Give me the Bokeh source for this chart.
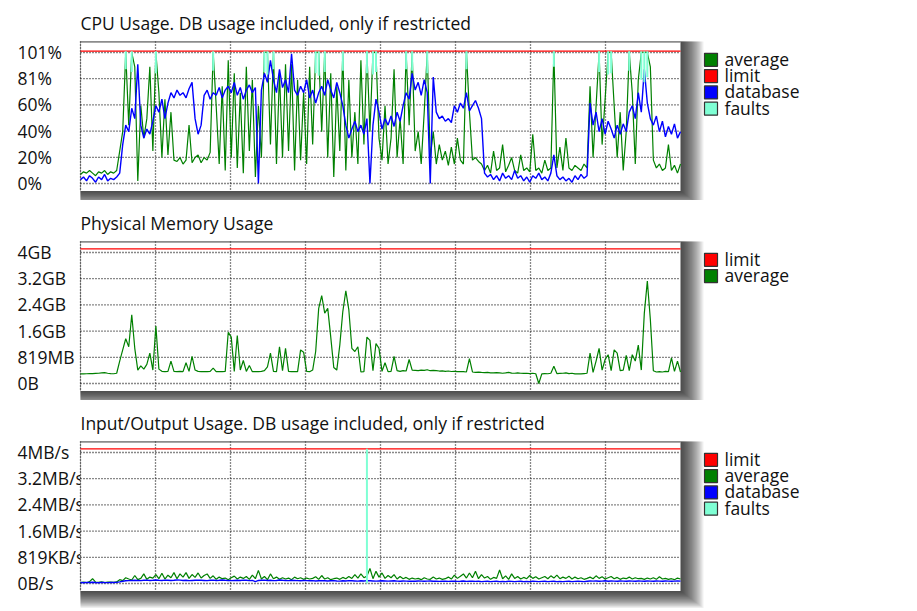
import numpy as np
from bokeh.plotting import figure
from bokeh.layouts import column
from bokeh.models import Range1d
from bokeh.core.properties import value
from bokeh.embed import file_html
from bokeh.resources import INLINE

# ---------------- data ----------------
cpu_avg = [
    7, 9, 8, 10, 8, 6, 9, 8, 10, 7,
    9, 8, 10, 25, 40, 101, 45, 101, 90, 2,
    60, 35, 50, 90, 25, 101, 70, 20, 65, 22,
    55, 18, 17, 20, 15, 18, 45, 16, 20, 22,
    16, 20, 18, 24, 101, 60, 15, 75, 10, 95,
    20, 85, 12, 70, 8, 90, 25, 80, 5, 60,
    20, 101, 101, 30, 101, 15, 85, 20, 92, 25,
    92, 10, 80, 18, 70, 15, 90, 30, 101, 101,
    40, 101, 20, 85, 5, 75, 25, 101, 10, 80,
    20, 55, 15, 95, 30, 101, 40, 101, 101, 35,
    18, 60, 15, 35, 88, 20, 50, 15, 101, 45,
    101, 25, 40, 15, 55, 101, 20, 40, 15, 30,
    18, 25, 14, 28, 15, 35, 18, 15, 101, 55,
    18, 20, 17, 15, 10, 14, 8, 25, 10, 12,
    30, 9, 14, 20, 10, 8, 22, 10, 12, 9,
    38, 10, 12, 8, 18, 10, 12, 101, 12, 28,
    10, 35, 12, 10, 14, 12, 10, 15, 12, 75,
    20, 60, 101, 30, 65, 101, 101, 60, 20, 55,
    10, 40, 101, 70, 15, 80, 101, 101, 101, 90,
    18, 12, 15, 10, 12, 30, 10, 14, 8, 15,
]
cpu_db = [
    3, 5, 2, 6, 4, 1, 5, 3, 7, 2,
    4, 3, 5, 8, 30, 45, 40, 58, 50, 92,
    45, 35, 42, 38, 48, 60, 55, 65, 50, 62,
    70, 66, 72, 68, 70, 66, 73, 78, 50, 38,
    45, 68, 72, 65, 70, 68, 74, 66, 72, 75,
    70, 78, 68, 74, 65, 72, 76, 70, 74, 0,
    72, 85, 78, 95, 80, 70, 88, 74, 80, 70,
    100, 72, 68, 75, 70, 80, 66, 72, 62, 70,
    75, 68, 80, 72, 66, 78, 70, 60, 45, 35,
    42, 48, 40, 45, 38, 50, 0, 45, 65, 55,
    42, 50, 45, 52, 44, 55, 48, 60, 70, 65,
    85, 72, 78, 68, 80, 70, 0, 82, 55, 50,
    52, 48, 50, 47, 60, 55, 62, 58, 70, 56,
    60, 64, 58, 50, 8, 5, 7, 3, 6, 2,
    8, 4, 6, 3, 10, 4, 6, 2, 5, 1,
    6, 4, 8, 3, 5, 2, 8, 22, 6, 3,
    5, 2, 4, 1, 6, 3, 7, 4, 6, 62,
    45, 55, 40, 50, 38, 48, 42, 35, 45, 38,
    46, 40, 55, 60, 50, 70, 55, 88, 62, 50,
    45, 52, 40, 48, 36, 44, 38, 46, 35, 40,
]
cpu_fault_idx = [15, 17, 25, 44, 61, 62, 64, 78, 79, 81, 87, 95, 97, 98, 108,
                 110, 115, 128, 157, 172, 175, 176, 182, 186, 187, 188]
cpu_fault_low = [88, 86, 85, 87, 86, 84, 88, 85, 83, 86, 87, 85, 84, 86, 88,
                 87, 85, 88, 90, 86, 84, 85, 87, 80, 78, 82]
cpu_limit = 102
cpu_ticks = [0, 20.2, 40.4, 60.6, 80.8, 101]
cpu_tick_labels = ["0%", "20%", "40%", "60%", "81%", "101%"]

mem_avg = [  # MB
    300, 300, 305, 310, 310, 315, 320, 330, 340, 320,
    310, 305, 320, 700, 1050, 1400, 1150, 2150, 1100, 420,
    550, 450, 600, 950, 420, 1800, 450, 380, 370, 380,
    700, 380, 370, 380, 370, 650, 380, 850, 420, 380,
    370, 375, 370, 380, 480, 370, 375, 370, 380, 1600,
    1450, 380, 1500, 420, 720, 380, 560, 370, 375, 370,
    380, 400, 520, 950, 380, 370, 1150, 400, 1100, 380,
    370, 375, 370, 1050, 980, 380, 370, 420, 1000, 2350,
    2750, 2200, 2350, 1450, 500, 420, 1200, 2250, 2900, 2300,
    1100, 1000, 1150, 360, 370, 1450, 1350, 400, 1250, 1100,
    380, 650, 370, 380, 850, 400, 380, 400, 390, 750,
    420, 410, 400, 420, 410, 430, 400, 410, 400, 390,
    395, 380, 390, 375, 380, 370, 375, 370, 360, 780,
    360, 350, 355, 345, 340, 345, 335, 330, 340, 330,
    320, 330, 350, 325, 320, 330, 320, 315, 320, 310,
    320, 305, 0, 300, 310, 305, 320, 540, 310, 315,
    320, 330, 310, 320, 300, 305, 300, 310, 320, 950,
    350, 700, 1100, 420, 750, 900, 400, 1050, 950, 400,
    420, 880, 400, 900, 700, 1200, 420, 2200, 3200, 2000,
    400, 360, 370, 360, 380, 370, 800, 380, 700, 360,
]
mem_limit = 4210
mem_ticks = [0, 819.2, 1638.4, 2457.6, 3276.8, 4096]
mem_tick_labels = ["0B", "819MB", "1.6GB", "2.4GB", "3.2GB", "4GB"]

io_avg = [  # KB/s
    30, 45, 25, 60, 150, 40, 35, 50, 30, 45,
    40, 35, 50, 120, 90, 180, 140, 110, 250, 120,
    160, 300, 130, 200, 170, 280, 150, 320, 140, 260,
    180, 340, 150, 300, 200, 340, 160, 280, 190, 330,
    170, 250, 300, 160, 240, 130, 200, 150, 170, 120,
    180, 230, 140, 200, 160, 220, 130, 260, 150, 410,
    140, 220, 120, 300, 150, 200, 130, 180, 140, 170,
    120, 200, 150, 180, 130, 170, 140, 160, 210, 130,
    250, 140, 180, 120, 150, 170, 130, 190, 150, 220,
    160, 280, 170, 300, 180, 230, 470, 150, 380, 200,
    330, 160, 250, 180, 280, 140, 220, 150, 190, 130,
    170, 140, 160, 120, 180, 140, 130, 200, 140, 170,
    130, 150, 200, 140, 260, 160, 230, 300, 170, 330,
    180, 380, 150, 280, 170, 220, 130, 190, 160, 420,
    150, 240, 130, 300, 160, 220, 140, 190, 150, 250,
    160, 210, 140, 180, 220, 150, 240, 170, 260, 150,
    200, 160, 230, 140, 200, 150, 180, 130, 160, 200,
    150, 240, 160, 210, 140, 180, 220, 150, 190, 130,
    170, 150, 200, 140, 180, 150, 160, 130, 170, 140,
    180, 130, 210, 140, 160, 130, 150, 120, 170, 140,
]
io_db = [
    30, 25, 35, 30, 40, 30, 25, 35, 30, 28,
    32, 30, 35, 50, 70, 85, 90, 95, 100, 95,
    90, 100, 105, 95, 100, 110, 100, 95, 105, 100,
    95, 100, 110, 105, 95, 100, 90, 95, 100, 105,
    100, 95, 90, 100, 105, 95, 100, 110, 100, 95,
    90, 95, 100, 95, 105, 100, 90, 95, 60, 95,
    100, 105, 95, 100, 90, 95, 110, 100, 95, 90,
    100, 95, 90, 85, 95, 90, 85, 90, 80, 85,
    90, 85, 80, 85, 90, 80, 75, 85, 80, 90,
    85, 80, 75, 85, 80, 90, 85, 80, 75, 80,
    85, 80, 75, 80, 85, 75, 70, 80, 75, 70,
    75, 70, 80, 75, 70, 75, 80, 70, 75, 65,
    70, 75, 65, 70, 75, 65, 70, 80, 65, 70,
    75, 65, 70, 60, 65, 70, 60, 65, 70, 60,
    65, 60, 70, 65, 60, 65, 70, 60, 65, 60,
    70, 65, 60, 65, 70, 60, 65, 70, 60, 65,
    60, 65, 70, 60, 65, 70, 65, 60, 70, 80,
    75, 80, 70, 75, 85, 70, 80, 75, 70, 80,
    75, 70, 80, 75, 70, 80, 75, 70, 80, 75,
    70, 80, 75, 70, 80, 75, 70, 75, 80, 75,
]
io_fault_idx = [95]
io_fault_low = [0]
io_limit = 4210
io_ticks = [0, 819.2, 1638.4, 2457.6, 3276.8, 4096]
io_tick_labels = ["0B/s", "819KB/s", "1.6MB/s", "2.4MB/s", "3.2MB/s", "4MB/s"]

GREEN, RED, BLUE, AQUA = "#008000", "#ff0000", "#0000ff", "#7fffd4"

# ---------------- layout (pixels inside each figure) ----------------
FONT = value("Open Sans")
FS = "17.5px"
FIG_W = 900
PLOT_L, PLOT_R = 80, 680
PLOT_T, PLOT_B = 41, 190.5
ZERO_PX, TOP_PX = 183, 52
N_VGRID = 8
TXT_SHIFT = -7  # correction of the renderer's baseline placement


def panel(height, title, top_tick, ticks, tick_labels, draws, faults, legend):
    n = max(len(d[1]) for d in draws if d[0] == "series")
    sx = (PLOT_R - PLOT_L) / (n - 1)
    x0 = -PLOT_L / sx
    x1 = (FIG_W - PLOT_L) / sx
    sy = (ZERO_PX - TOP_PX) / top_tick
    y0 = -(height - ZERO_PX) / sy
    y1 = ZERO_PX / sy
    X = lambda px: x0 + px / sx
    Y = lambda py: y1 - py / sy

    p = figure(width=FIG_W, height=height, x_range=Range1d(x0, x1), y_range=Range1d(y0, y1),
               x_axis_type=None, y_axis_type=None, toolbar_location=None, min_border=0,
               output_backend="svg", outline_line_color=None, title=None,
               background_fill_color="white", border_fill_color="white")

    # drop shadow
    ks = np.arange(1, 21)
    p.quad(left=[X(PLOT_L)] * len(ks), right=[X(PLOT_R + 1.15 * k) for k in ks],
           top=[Y(PLOT_T)] * len(ks), bottom=[Y(PLOT_B + 0.85 * k) for k in ks],
           fill_color="black", fill_alpha=0.055, line_color=None)

    # tick labels (left aligned, partly hidden under the plot area)
    p.text(x=[X(17)] * len(ticks), y=ticks, text=tick_labels, text_font=FONT, text_font_size=FS,
           text_color="#111111", text_align="left", text_baseline="alphabetic",
           y_offset=6.5 + TXT_SHIFT)

    # plot background
    p.quad(left=[X(PLOT_L)], right=[X(PLOT_R)], top=[Y(PLOT_T)], bottom=[Y(PLOT_B)],
           fill_color="white", line_color=None)

    # grid
    xs = [(n - 1) * k / N_VGRID for k in range(N_VGRID)]
    p.segment(x0=[0], x1=[0], y0=[Y(PLOT_T)], y1=[Y(PLOT_B)], line_color="#bbbbbb", line_width=1)
    p.segment(x0=[0] * len(ticks), x1=[n - 1] * len(ticks), y0=ticks, y1=ticks,
              line_color="#111111", line_width=1.3, line_dash="1 2")
    p.segment(x0=xs, x1=xs, y0=[Y(PLOT_T)] * len(xs), y1=[Y(PLOT_B)] * len(xs),
              line_color="#111111", line_width=1.3, line_dash="1 2")
    p.segment(x0=[0], x1=[n - 1], y0=[Y(PLOT_T + 0.5)], y1=[Y(PLOT_T + 0.5)],
              line_color="#555555", line_width=1.2)

    idx = np.arange(n)
    for kind, data, color, lw in draws:
        if kind == "limit":
            p.line(x=[0, n - 1], y=[data, data], line_color=color, line_width=lw)
        else:
            p.line(x=idx, y=data, line_color=color, line_width=lw)

    if faults is not None:
        fidx, flow, limit = faults
        p.segment(x0=fidx, x1=fidx, y0=[limit] * len(fidx), y1=flow,
                  line_color=AQUA, line_width=2)

    # legend
    rows = [Y(59.3 + 16.3 * k) for k in range(len(legend))]
    p.scatter(x=[X(710.5)] * len(legend), y=rows, marker="square", size=13,
              fill_color=[c for _, c in legend], line_color="#333333", line_width=1.2)
    p.text(x=[X(724)] * len(legend), y=rows, text=[l for l, _ in legend], text_font=FONT,
           text_font_size=FS, text_color="#111111", text_align="left",
           text_baseline="alphabetic", y_offset=6 + TXT_SHIFT)

    # title
    p.text(x=[X(80)], y=[Y(29)], text=[title], text_font=FONT, text_font_size=FS,
           text_color="#111111", text_align="left", text_baseline="alphabetic",
           y_offset=TXT_SHIFT)
    return p


p1 = panel(200, "CPU Usage. DB usage included, only if restricted", cpu_ticks[-1],
           cpu_ticks, cpu_tick_labels,
           [("series", cpu_avg, GREEN, 1.2), ("limit", cpu_limit, RED, 1.3),
            ("series", cpu_db, BLUE, 1.4)],
           (cpu_fault_idx, cpu_fault_low, cpu_limit),
           [("average", GREEN), ("limit", RED), ("database", BLUE), ("faults", AQUA)])

p2 = panel(200, "Physical Memory Usage", mem_ticks[-1], mem_ticks, mem_tick_labels,
           [("series", mem_avg, GREEN, 1.2), ("limit", mem_limit, RED, 1.3)],
           None,
           [("limit", RED), ("average", GREEN)])

p3 = panel(210, "Input/Output Usage. DB usage included, only if restricted", io_ticks[-1],
           io_ticks, io_tick_labels,
           [("limit", io_limit, RED, 1.3), ("series", io_avg, GREEN, 1.2),
            ("series", io_db, BLUE, 1.4)],
           (io_fault_idx, io_fault_low, io_limit),
           [("limit", RED), ("average", GREEN), ("database", BLUE), ("faults", AQUA)])

layout = column(p1, p2, p3, spacing=0)
open("out.html", "w").write(file_html(layout, INLINE, "Resource usage"))
